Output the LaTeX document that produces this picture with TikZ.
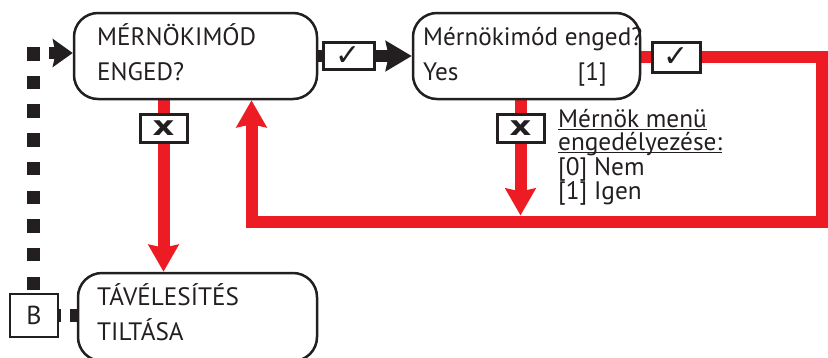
\documentclass[tikz,border=0pt]{standalone}
\usepackage{fontspec}
\setmainfont{PT Sans}
\newfontfamily\symf{DejaVu Sans}
\usetikzlibrary{arrows.meta,backgrounds}
\definecolor{myred}{HTML}{ED1C24}
\definecolor{myblk}{HTML}{231F20}
\newcommand\myul[1]{\setbox0\hbox{#1}\rlap{\rule[-3pt]{\wd0}{1.3pt}}\box0}
\begin{document}
\begin{tikzpicture}[x=1pt,y=-1pt,
  menubox/.style={draw=myblk,line width=2.5pt,rounded corners=24pt,inner sep=0pt},
  txt/.style={anchor=base west,inner sep=0pt,font=\fontsize{25.2}{28}\selectfont,text=myblk},
  ann/.style={anchor=base west,inner sep=0pt,font=\fontsize{25.3}{26}\selectfont,text=myblk},
  tagbox/.style={draw=myblk,line width=3pt,fill=white,inner sep=0pt,font=\symf\fontsize{30}{30}\selectfont,text=myblk},
  crossbox/.style={tagbox,minimum width=47pt,minimum height=28pt,font=\symf\bfseries\fontsize{27}{27}\selectfont},
  redline/.style={draw=myred,line width=12pt},
  blkline/.style={draw=myblk,line width=12pt},
  redarrow/.style={redline,-{Stealth[length=27pt,width=30pt,inset=3pt]}},
  blkarrow/.style={blkline,-{Stealth[length=26pt,width=30pt,inset=3pt]}},
  dotline/.style={draw=myblk,line width=13pt}
]
\useasboundingbox (0,0) rectangle (828,357);
% boxes
\node[menubox,minimum width=243pt,minimum height=86pt] (box1) at (195.5,56) {};
\node[menubox,minimum width=227pt,minimum height=86pt] (box2) at (526.5,56) {};
\node[menubox,minimum width=239pt,minimum height=88pt] (box3) at (197.5,317) {};
\node[draw=myblk,line width=2pt,minimum width=48pt,minimum height=43pt,inner sep=0pt,font=\fontsize{26}{28}\selectfont,text=myblk] (B) at (34,315.5) {B};
% tag boxes
\node[tagbox,minimum width=51pt,minimum height=27pt] (ck1) at (348.5,56) {\raisebox{-2pt}{✓}};
\node[tagbox,minimum width=48pt,minimum height=30pt] (ck2) at (676,57) {\raisebox{-2pt}{✓}};
\node[crossbox] (x1) at (163.5,128) {\scalebox{1.25}[1]{x}};
\node[crossbox] (x2) at (520.5,128) {\scalebox{1.25}[1]{x}};
% texts
\node[txt] (t1a) at (97,45) {MÉRNÖKIMÓD};
\node[txt] (t1b) at (97,80) {ENGED?};
\node[txt] (t2a) at (423,45) {Mérnökimód enged?};
\node[txt] (t2b) at (423,80) {Yes};
\node[txt,anchor=base east] (t2c) at (607,80) {[1]};
\node[txt] (t3a) at (97,305) {TÁVÉLESÍTÉS};
\node[txt] (t3b) at (97,340) {TILTÁSA};
\node[ann] (a1) at (558,127) {\myul{Mérnök menü}};
\node[ann] (a2) at (558,150) {\myul{engedélyezése:}};
\node[ann] (a3) at (558,175) {[0] Nem};
\node[ann] (a4) at (558,199) {[1] Igen};
% coordinates
\coordinate (dtop) at (33.5,47);
\coordinate (darr) at (49,53);
\coordinate (r1) at (822,57);
\coordinate (r2) at (822,221.5);
\coordinate (r3) at (251.5,221.5);
\coordinate (a2p) at (520.5,215.5);
\begin{pgfonlayer}{background}
\draw[dotline,dash pattern=on 13.5pt off 15.2pt] (dtop) -- (dtop |- B.north);
\draw[blkline,-{Stealth[length=20pt,width=28pt,inset=3pt]}] (darr) -- (darr -| box1.west);
\draw[dotline,dash pattern=on 2pt off 9pt on 9pt off 20pt] (B.east) -- (B.east -| box3.west);
\draw[blkline] (box1.east) -- (ck1.west);
\draw[blkarrow] (ck1.east) -- (box2.west);
\draw[redline] (ck2.west -| box2.east) -- (ck2.west);
\draw[redarrow,line join=miter] (ck2.east) -- (r1) -- (r2) -- (r3) -- (r3 |- box1.south);
\draw[redline] (x1 |- box1.south) -- (x1.north);
\draw[redarrow] (x1.south) -- (x1 |- box3.north);
\draw[redline] (x2 |- box2.south) -- (x2.north);
\draw[redarrow] (x2.south) -- (x2.south |- a2p);
\end{pgfonlayer}
\end{tikzpicture}
\end{document}
